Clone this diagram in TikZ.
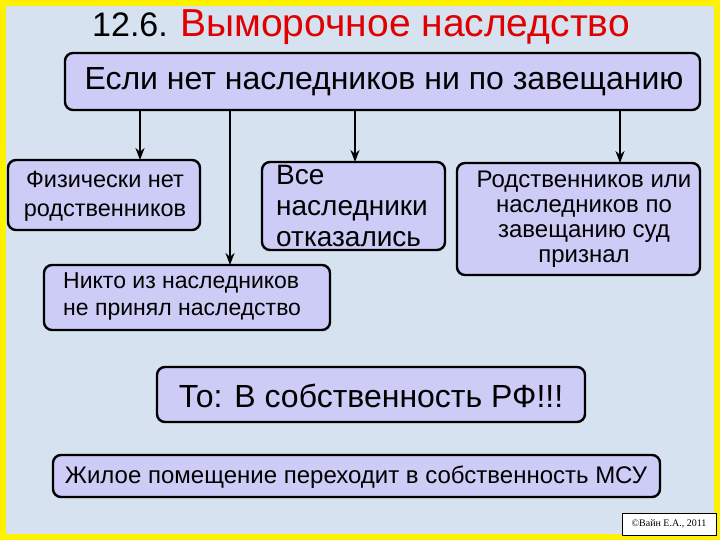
\documentclass[tikz,border=0pt]{standalone}
\usepackage{fontspec}
\setmainfont{Liberation Sans}
\newfontfamily\serifx{Liberation Serif}
\usetikzlibrary{arrows.meta}
\definecolor{bg}{HTML}{D6E2F0}
\definecolor{boxf}{HTML}{CCCCF6}
\definecolor{ttl}{HTML}{E00000}
\begin{document}
\begin{tikzpicture}[x=1pt,y=-1pt,
  bx/.style={draw=black,line width=2.4pt,fill=boxf,rounded corners=8pt},
  arr/.style={line width=2.6pt,-{Stealth[length=12pt,width=9pt]}},
  lbl/.style={align=center,inner sep=0pt}]
\fill[yellow] (0,0) rectangle (720,540);
\fill[bg] (6,6) rectangle (714,534);
\useasboundingbox (0,0) rectangle (720,540);
% title
\node[anchor=base west,inner sep=0pt,font=\fontsize{34}{36}\selectfont] (t) at (92,37) {12.6. \textcolor{ttl}{\fontsize{39}{40}\selectfont Выморочное наследство}};
% boxes
\draw[bx] (65,53) rectangle (700,110);
\node[lbl,font=\fontsize{32}{36}\selectfont] (top) at (384,82) {Если нет наследников ни по завещанию};
\draw[bx] (8,160) rectangle (200,230);
\node[lbl,font=\fontsize{23.5}{29}\selectfont] (a) at (105,196) {Физически нет\\родственников};
\draw[bx] (262,162) rectangle (445,250);
\node[lbl,align=left,anchor=north west,font=\fontsize{28}{31}\selectfont] (b) at (276,165) {Все\\наследники\\отказались};
\draw[bx] (457,163) rectangle (700,275);
\node[lbl,font=\fontsize{24}{25}\selectfont] (c) at (584,219) {Родственников или\\наследников по\\завещанию суд\\признал};
\draw[bx] (44,265) rectangle (330,330);
\node[lbl,align=left,anchor=west,font=\fontsize{23}{27}\selectfont] (d) at (63,296) {Никто из наследников\\не принял наследство};
\draw[bx] (157,367) rectangle (585,422);
\node[lbl,font=\fontsize{32}{36}\selectfont] (e) at (371,396) {То: В собственность РФ!!!};
\draw[bx] (53,455) rectangle (660,497);
\node[lbl,font=\fontsize{24}{28}\selectfont] (f) at (356,477) {Жилое помещение переходит в собственность МСУ};
\node[draw=black,line width=1pt,fill=white,minimum width=94pt,minimum height=22pt,inner sep=0pt,font=\serifx\fontsize{10}{11}\selectfont] (g) at (669,524) {©Вайн Е.А., 2011};
% arrows
\draw[arr] (140,110) -- (140,160);
\draw[arr] (230,110) -- (230,265);
\draw[arr] (355,110) -- (355,162);
\draw[arr] (620,110) -- (620,163);
\end{tikzpicture}
\end{document}
